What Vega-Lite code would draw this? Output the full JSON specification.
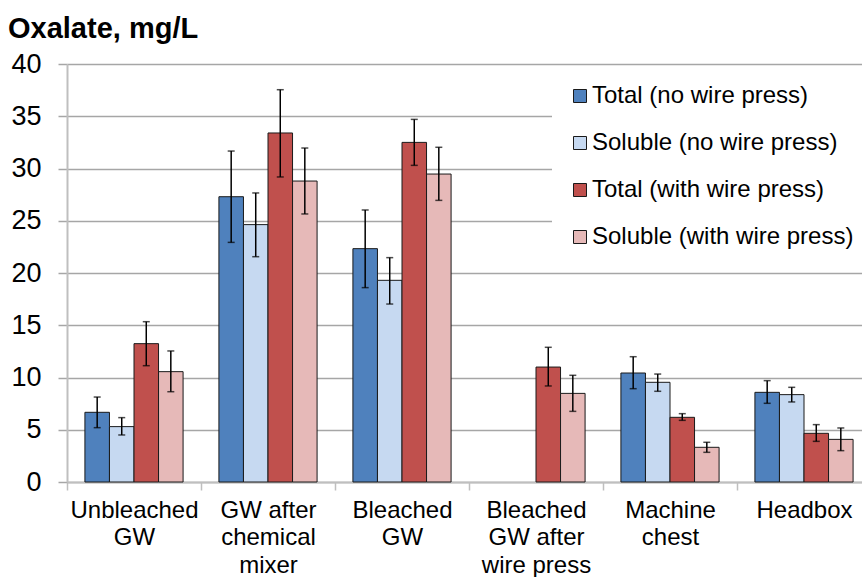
{
  "$schema": "https://vega.github.io/schema/vega-lite/v6.json",
  "autosize": {"type": "none"},
  "padding": {"left": 67, "top": 64, "right": 0, "bottom": 95},
  "width": 795,
  "height": 418,
  "background": "white",
  "title": {"text": "Oxalate, mg/L", "anchor": "start", "frame": "group", "dx": -59, "fontSize": 29, "fontWeight": "bold", "font": "Liberation Sans", "color": "black", "offset": 6},
  "config": {"view": {"stroke": null}, "font": "Liberation Sans"},
  "data": {"values": [
    {"cat": "Unbleached|GW", "series": "Total (no wire press)", "value": 6.67, "lo": 5.20, "hi": 8.13},
    {"cat": "Unbleached|GW", "series": "Soluble (no wire press)", "value": 5.30, "lo": 4.50, "hi": 6.16},
    {"cat": "Unbleached|GW", "series": "Total (with wire press)", "value": 13.24, "lo": 11.13, "hi": 15.34},
    {"cat": "Unbleached|GW", "series": "Soluble (with wire press)", "value": 10.56, "lo": 8.64, "hi": 12.54},
    {"cat": "GW after|chemical|mixer", "series": "Total (no wire press)", "value": 27.30, "lo": 22.93, "hi": 31.67},
    {"cat": "GW after|chemical|mixer", "series": "Soluble (no wire press)", "value": 24.63, "lo": 21.56, "hi": 27.66},
    {"cat": "GW after|chemical|mixer", "series": "Total (with wire press)", "value": 33.40, "lo": 29.19, "hi": 37.54},
    {"cat": "GW after|chemical|mixer", "series": "Soluble (with wire press)", "value": 28.80, "lo": 25.65, "hi": 31.96},
    {"cat": "Bleached|GW", "series": "Total (no wire press)", "value": 22.33, "lo": 18.60, "hi": 26.03},
    {"cat": "Bleached|GW", "series": "Soluble (no wire press)", "value": 19.30, "lo": 17.03, "hi": 21.47},
    {"cat": "Bleached|GW", "series": "Total (with wire press)", "value": 32.50, "lo": 30.30, "hi": 34.70},
    {"cat": "Bleached|GW", "series": "Soluble (with wire press)", "value": 29.47, "lo": 26.95, "hi": 32.03},
    {"cat": "Bleached|GW after|wire press", "series": "Total (with wire press)", "value": 11.00, "lo": 9.19, "hi": 12.89},
    {"cat": "Bleached|GW after|wire press", "series": "Soluble (with wire press)", "value": 8.48, "lo": 6.76, "hi": 10.21},
    {"cat": "Machine|chest", "series": "Total (no wire press)", "value": 10.43, "lo": 8.93, "hi": 11.99},
    {"cat": "Machine|chest", "series": "Soluble (no wire press)", "value": 9.54, "lo": 8.68, "hi": 10.33},
    {"cat": "Machine|chest", "series": "Total (with wire press)", "value": 6.19, "lo": 5.90, "hi": 6.54},
    {"cat": "Machine|chest", "series": "Soluble (with wire press)", "value": 3.32, "lo": 2.84, "hi": 3.80},
    {"cat": "Headbox", "series": "Total (no wire press)", "value": 8.58, "lo": 7.53, "hi": 9.70},
    {"cat": "Headbox", "series": "Soluble (no wire press)", "value": 8.36, "lo": 7.66, "hi": 9.06},
    {"cat": "Headbox", "series": "Total (with wire press)", "value": 4.66, "lo": 3.89, "hi": 5.49},
    {"cat": "Headbox", "series": "Soluble (with wire press)", "value": 4.08, "lo": 3.00, "hi": 5.17}
  ]},
  "encoding": {
    "x": {
      "field": "cat", "type": "nominal",
      "sort": ["Unbleached|GW", "GW after|chemical|mixer", "Bleached|GW", "Bleached|GW after|wire press", "Machine|chest", "Headbox"],
      "scale": {"paddingInner": 0, "paddingOuter": 0, "range": [0, 804]},
      "axis": {"title": null, "labelAngle": 0, "labelExpr": "isValid(datum.value) ? split(datum.value, '|') : ''", "labelFontSize": 24, "labelLineHeight": 27.5, "labelColor": "black", "labelPadding": 8, "tickBand": "extent", "tickSize": 8, "tickColor": "#bfbfbf", "tickWidth": 1.5, "domainColor": "#bfbfbf", "domainWidth": 2, "labelLimit": 200}
    },
    "xOffset": {
      "field": "series", "type": "nominal",
      "sort": ["Total (no wire press)", "Soluble (no wire press)", "Total (with wire press)", "Soluble (with wire press)"],
      "scale": {"domain": ["Total (no wire press)", "Soluble (no wire press)", "Total (with wire press)", "Soluble (with wire press)"], "paddingInner": 0, "paddingOuter": 0.73}
    }
  },
  "layer": [
    {
      "mark": {"type": "bar", "stroke": "#1a1a1a", "strokeWidth": 1},
      "encoding": {
        "y": {"field": "value", "type": "quantitative",
          "scale": {"domain": [0, 40], "nice": false},
          "axis": {"title": null, "values": [0, 5, 10, 15, 20, 25, 30, 35, 40], "labelFontSize": 27, "labelColor": "black", "labelPadding": 17, "tickSize": 9, "tickColor": "#a6a6a6", "tickWidth": 1.5, "gridColor": "#a6a6a6", "gridWidth": 1.5, "domainColor": "#bfbfbf", "domainWidth": 2}
        },
        "color": {
          "field": "series", "type": "nominal",
          "scale": {"domain": ["Total (no wire press)", "Soluble (no wire press)", "Total (with wire press)", "Soluble (with wire press)"], "range": ["#4F81BD", "#C6D9F1", "#C0504D", "#E6B9B8"]},
          "legend": {"title": null, "orient": "none", "legendX": 485, "legendY": 4, "padding": 16, "fillColor": "white", "strokeColor": null, "symbolType": "square", "symbolSize": 169, "symbolStrokeColor": "#1a1a1a", "symbolStrokeWidth": 1, "labelFontSize": 24, "labelColor": "black", "labelOffset": 0, "rowPadding": 23, "labelLimit": 400}
        }
      }
    },
    {
      "mark": {"type": "rule", "color": "black", "strokeWidth": 1.5},
      "encoding": {"y": {"field": "lo", "type": "quantitative"}, "y2": {"field": "hi"}}
    },
    {
      "mark": {"type": "tick", "color": "black", "thickness": 1.5, "size": 7},
      "encoding": {"y": {"field": "lo", "type": "quantitative"}}
    },
    {
      "mark": {"type": "tick", "color": "black", "thickness": 1.5, "size": 7},
      "encoding": {"y": {"field": "hi", "type": "quantitative"}}
    }
  ]
}
